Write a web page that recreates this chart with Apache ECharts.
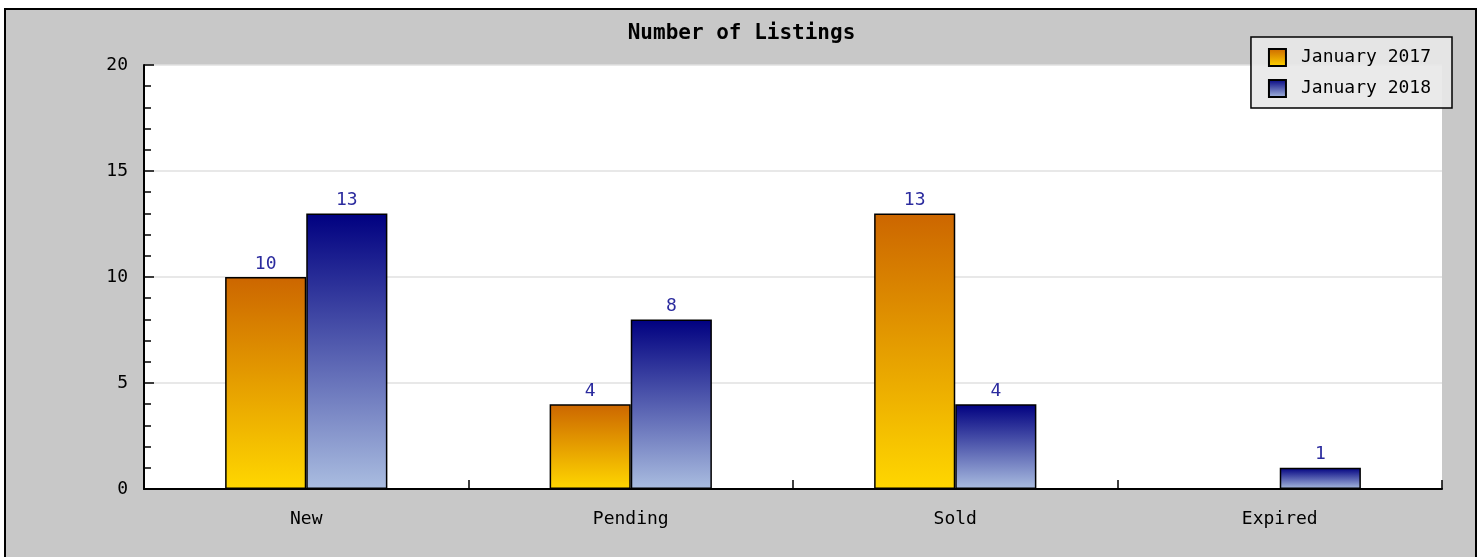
<!DOCTYPE html>
<html>
<head>
<meta charset="utf-8">
<script src="https://cdn.jsdelivr.net/npm/echarts@6/dist/echarts.min.js"></script>
<style>html,body{margin:0;padding:0;background:#fff;}#c{width:1483px;height:557px;}</style>
</head>
<body>
<div id="c"></div>
<script>
const categories = ['New', 'Pending', 'Sold', 'Expired'];
const seriesNames = ['January 2017', 'January 2018'];
const jan2017 = [10, 4, 13, 0];
const jan2018 = [13, 8, 4, 1];
const yTicks = [0, 5, 10, 15, 20];

const FONT = '"DejaVu Sans Mono", "Liberation Mono", monospace';
const orangeGrad = new echarts.graphic.LinearGradient(0, 0, 0, 1, [
  {offset: 0, color: '#cc6600'}, {offset: 1, color: '#ffd700'}]);
const blueGrad = new echarts.graphic.LinearGradient(0, 0, 0, 1, [
  {offset: 0, color: '#000080'}, {offset: 1, color: '#aabde0'}]);

const chart = echarts.init(document.getElementById('c'));
chart.setOption({
  backgroundColor: '#ffffff',
  animation: false,
  graphic: [{
    type: 'rect', z: -10, silent: true,
    shape: {x: 5, y: 9, width: 1471, height: 600},
    style: {fill: '#c8c8c8', stroke: '#000', lineWidth: 2}
  }],
  title: {
    text: 'Number of Listings', left: 'center', top: 18,
    textStyle: {fontFamily: FONT, fontSize: 21, fontWeight: 'bold', color: '#000'}
  },
  legend: {
    orient: 'vertical', right: 31, top: 37,
    backgroundColor: 'rgba(232,232,232,0.9)', borderColor: '#000', borderWidth: 1.5,
    padding: [11, 21, 10, 17], itemWidth: 17, itemHeight: 17, itemGap: 12,
    icon: 'rect',
    textStyle: {fontFamily: FONT, fontSize: 18, color: '#000', padding: [0, 0, 0, 10]},
    data: seriesNames
  },
  grid: {
    left: 144, top: 65, right: 41, bottom: 68, show: true,
    backgroundColor: '#ffffff', borderWidth: 0
  },
  xAxis: {
    type: 'category', data: categories,
    axisLine: {show: true, lineStyle: {color: '#000', width: 2}},
    axisTick: {show: true, inside: true, length: 9, interval: 0, alignWithLabel: false,
      lineStyle: {color: '#000', width: 1.5}},
    axisLabel: {fontFamily: FONT, fontSize: 18, color: '#000', margin: 21},
    splitLine: {show: false}
  },
  yAxis: {
    type: 'value', min: yTicks[0], max: yTicks[yTicks.length - 1], interval: 5,
    axisLine: {show: true, lineStyle: {color: '#000', width: 2}},
    axisTick: {show: true, inside: true, length: 10, lineStyle: {color: '#000', width: 1.5}},
    minorTick: {show: true, splitNumber: 5, length: 7, lineStyle: {color: '#000', width: 1.5}},
    axisLabel: {fontFamily: FONT, fontSize: 18, color: '#000', margin: 16,
      padding: [6, 0, 0, 0]},
    splitLine: {show: true, lineStyle: {color: '#e0e0e0', width: 1.5}}
  },
  series: [
    {
      name: seriesNames[0], type: 'bar', data: jan2017,
      barGap: '0%', barCategoryGap: '50%',
      itemStyle: {color: orangeGrad, borderColor: '#000', borderWidth: 1.5},
      label: {show: true, position: 'top', distance: 4, fontFamily: FONT, fontSize: 18, color: '#2b2b9e',
        formatter: p => p.value === 0 ? '' : p.value}
    },
    {
      name: seriesNames[1], type: 'bar', data: jan2018,
      barGap: '0%', barCategoryGap: '50%',
      itemStyle: {color: blueGrad, borderColor: '#000', borderWidth: 1.5},
      label: {show: true, position: 'top', distance: 4, fontFamily: FONT, fontSize: 18, color: '#2b2b9e'}
    }
  ]
});
</script>
</body>
</html>
